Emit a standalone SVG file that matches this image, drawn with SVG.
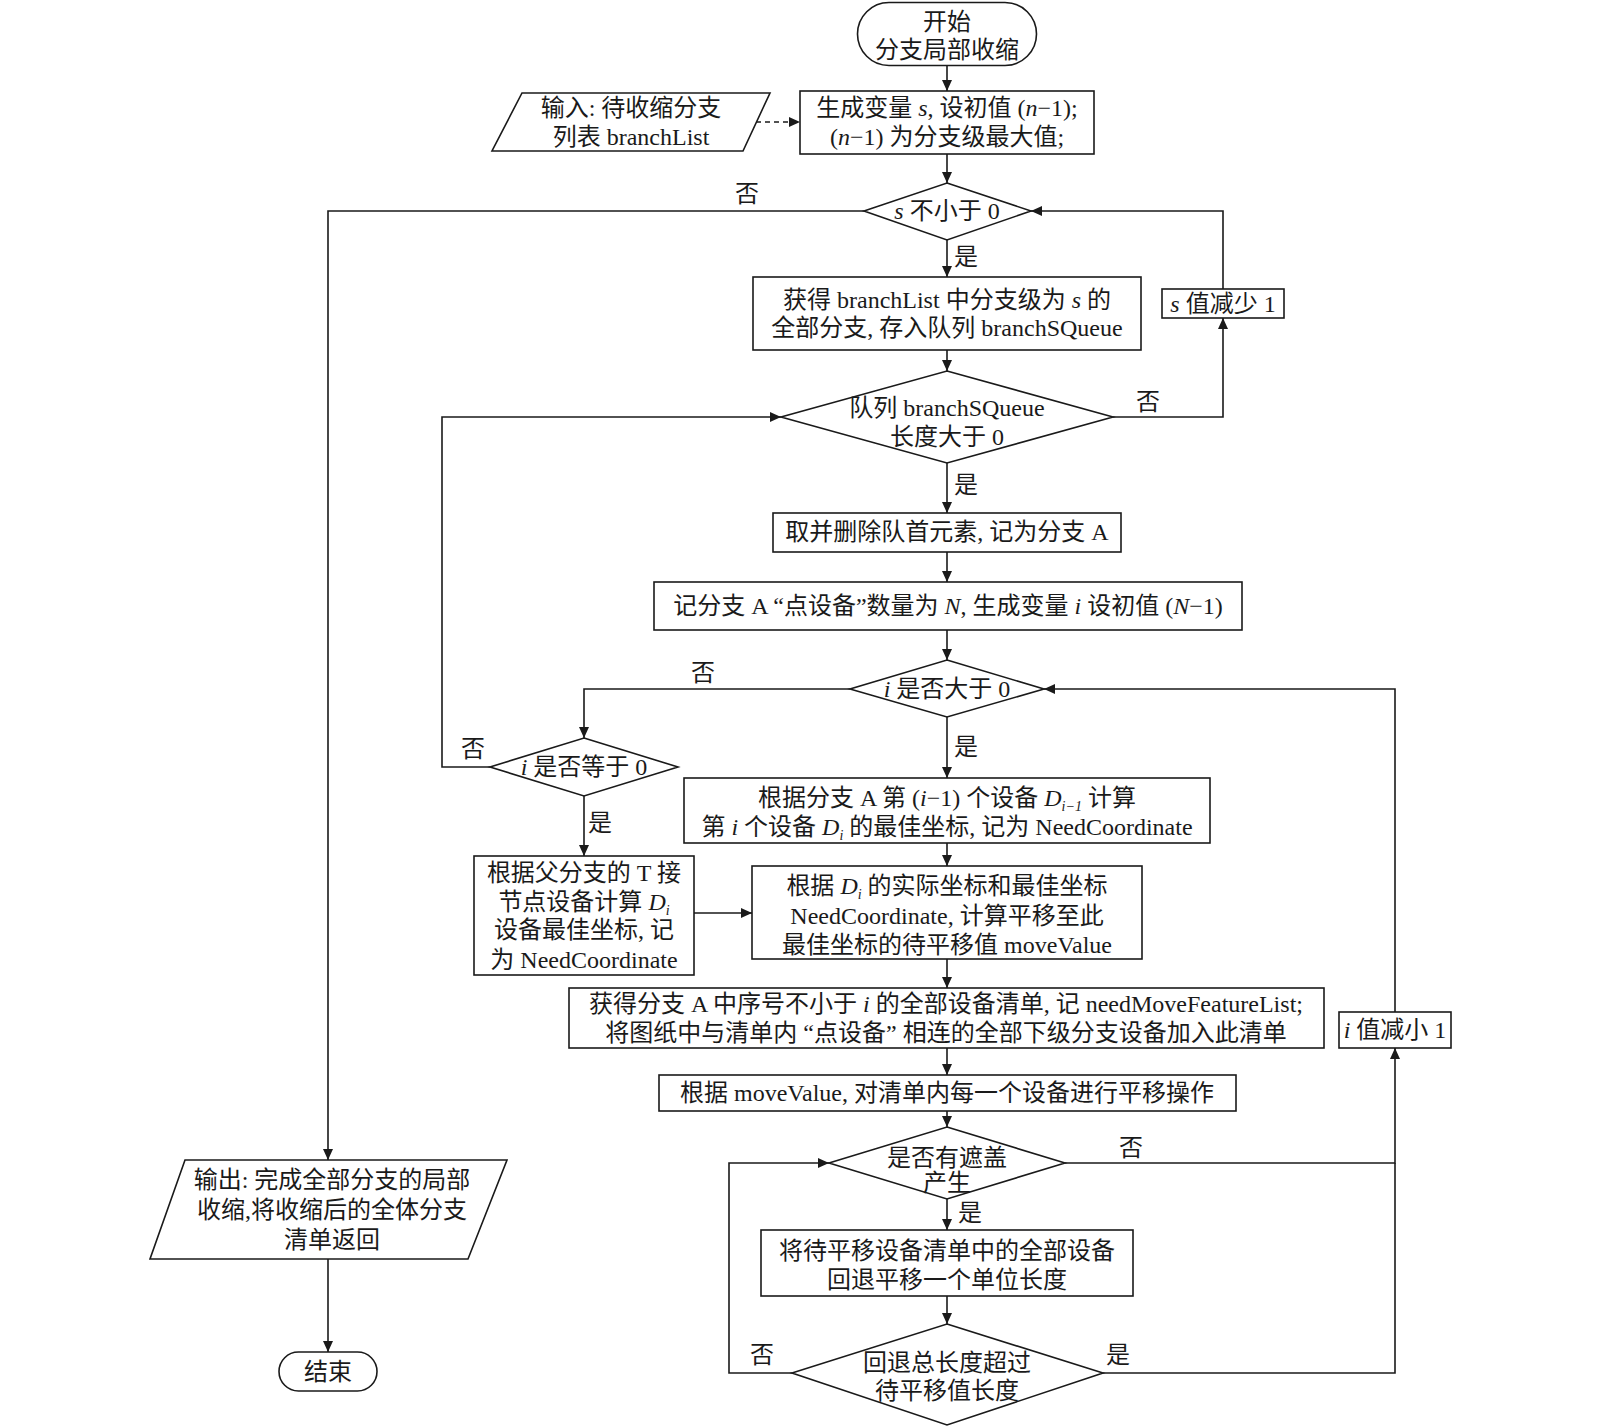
<svg xmlns="http://www.w3.org/2000/svg" width="1600" height="1427" viewBox="0 0 1600 1427">
<style>
.n{fill:#fff;stroke:#1a1a1a;stroke-width:1.6}
.c{fill:none;stroke:#1a1a1a;stroke-width:1.6}
text{font-family:"Liberation Serif","Noto Sans CJK SC",serif;font-size:24px;fill:#1a1a1a;text-anchor:middle}
.it{font-style:italic}
.sub{font-size:14px;font-style:italic}
</style>
<defs>
<marker id="a" markerUnits="userSpaceOnUse" markerWidth="12" markerHeight="10" refX="11" refY="5" orient="auto">
<path d="M0,0 L11,5 L0,10 z" fill="#1a1a1a"/>
</marker>
</defs>
<rect width="1600" height="1427" fill="#fff"/>
<g id="connectors">
<path class="c" d="M947,65 V91" marker-end="url(#a)"/>
<path class="c" d="M756,122 H800" stroke-dasharray="5,4" marker-end="url(#a)"/>
<path class="c" d="M947,154 V183" marker-end="url(#a)"/>
<path class="c" d="M947,240 V277" marker-end="url(#a)"/>
<path class="c" d="M864,211 H328 V1160" marker-end="url(#a)"/>
<path class="c" d="M947,350 V371" marker-end="url(#a)"/>
<path class="c" d="M1113,417 H1223 V318" marker-end="url(#a)"/>
<path class="c" d="M1223,289 V211 H1031" marker-end="url(#a)"/>
<path class="c" d="M947,463 V513" marker-end="url(#a)"/>
<path class="c" d="M947,552 V582" marker-end="url(#a)"/>
<path class="c" d="M947,630 V660" marker-end="url(#a)"/>
<path class="c" d="M850,689 H584 V738" marker-end="url(#a)"/>
<path class="c" d="M947,717 V778" marker-end="url(#a)"/>
<path class="c" d="M490,767 H442 V417 H781" marker-end="url(#a)"/>
<path class="c" d="M584,796 V856" marker-end="url(#a)"/>
<path class="c" d="M694,913 H752" marker-end="url(#a)"/>
<path class="c" d="M947,843 V866" marker-end="url(#a)"/>
<path class="c" d="M947,959 V988" marker-end="url(#a)"/>
<path class="c" d="M947,1048 V1075" marker-end="url(#a)"/>
<path class="c" d="M947,1111 V1127" marker-end="url(#a)"/>
<path class="c" d="M1065,1163 H1395 V1048" marker-end="url(#a)"/>
<path class="c" d="M1395,1012 V689 H1044" marker-end="url(#a)"/>
<path class="c" d="M947,1199 V1230" marker-end="url(#a)"/>
<path class="c" d="M947,1296 V1324" marker-end="url(#a)"/>
<path class="c" d="M792,1373 H729 V1163 H829" marker-end="url(#a)"/>
<path class="c" d="M1103,1373 H1395 V1163"/>
<path class="c" d="M328,1259 V1352" marker-end="url(#a)"/>
<text x="747" y="202">否</text>
<text x="966" y="265">是</text>
<text x="1148" y="410">否</text>
<text x="966" y="493">是</text>
<text x="703" y="681">否</text>
<text x="966" y="755">是</text>
<text x="473" y="757">否</text>
<text x="600" y="831">是</text>
<text x="1131" y="1156">否</text>
<text x="970" y="1221">是</text>
<text x="762" y="1363">否</text>
<text x="1118" y="1363">是</text>
</g>
<g id="start">
<rect class="n" x="857.5" y="2.5" width="179" height="63" rx="31.5"/>
<text x="947" y="30">开始</text>
<text x="947" y="58">分支局部收缩</text>
</g>
<g id="input">
<polygon class="n" points="522,93 770,93 743,151 492,151"/>
<text x="631" y="116">输入: 待收缩分支</text>
<text x="631" y="145">列表 branchList</text>
</g>
<g id="init-s">
<rect class="n" x="800" y="91" width="294" height="63"/>
<text x="947" y="116">生成变量 <tspan class="it">s</tspan>, 设初值 (<tspan class="it">n</tspan>−1);</text>
<text x="947" y="145">(<tspan class="it">n</tspan>−1) 为分支级最大值;</text>
</g>
<g id="dec-s">
<polygon class="n" points="947,183 1031,211 947,240 864,211"/>
<text x="947" y="219"><tspan class="it">s</tspan> 不小于 0</text>
</g>
<g id="get-branches">
<rect class="n" x="753" y="277" width="388" height="73"/>
<text x="947" y="308">获得 branchList 中分支级为 <tspan class="it">s</tspan> 的</text>
<text x="947" y="336">全部分支, 存入队列 branchSQueue</text>
</g>
<g id="s-minus">
<rect class="n" x="1162" y="289" width="122" height="29"/>
<text x="1223" y="312"><tspan class="it">s</tspan> 值减少 1</text>
</g>
<g id="dec-queue">
<polygon class="n" points="947,371 1113,417 947,463 781,417"/>
<text x="947" y="416">队列 branchSQueue</text>
<text x="947" y="445">长度大于 0</text>
</g>
<g id="take-head">
<rect class="n" x="773" y="513" width="348" height="39"/>
<text x="947" y="540">取并删除队首元素, 记为分支 A</text>
</g>
<g id="init-i">
<rect class="n" x="654" y="582" width="588" height="48"/>
<text x="948" y="614">记分支 A “点设备”数量为 <tspan class="it">N</tspan>, 生成变量 <tspan class="it">i</tspan> 设初值 (<tspan class="it">N</tspan>−1)</text>
</g>
<g id="dec-i-gt">
<polygon class="n" points="947,660 1044,689 947,717 850,689"/>
<text x="947" y="697"><tspan class="it">i</tspan> 是否大于 0</text>
</g>
<g id="dec-i-eq">
<polygon class="n" points="584,738 678,767 584,796 490,767"/>
<text x="584" y="775"><tspan class="it">i</tspan> 是否等于 0</text>
</g>
<g id="calc-parent">
<rect class="n" x="474" y="856" width="220" height="119"/>
<text x="584" y="881">根据父分支的 T 接</text>
<text x="584" y="910">节点设备计算 <tspan class="it">D</tspan><tspan class="sub" dy="5">i</tspan></text>
<text x="584" y="938">设备最佳坐标, 记</text>
<text x="584" y="968">为 NeedCoordinate</text>
</g>
<g id="calc-prev">
<rect class="n" x="684" y="778" width="526" height="65"/>
<text x="947" y="806">根据分支 A 第 (<tspan class="it">i</tspan>−1) 个设备 <tspan class="it">D</tspan><tspan class="sub" dy="5">i</tspan><tspan class="sub" dy="0" font-style="normal">−1</tspan><tspan dy="-5"> 计算</tspan></text>
<text x="947" y="835">第 <tspan class="it">i</tspan> 个设备 <tspan class="it">D</tspan><tspan class="sub" dy="5">i</tspan><tspan dy="-5"> 的最佳坐标, 记为 NeedCoordinate</tspan></text>
</g>
<g id="calc-move">
<rect class="n" x="752" y="866" width="390" height="93"/>
<text x="947" y="894">根据 <tspan class="it">D</tspan><tspan class="sub" dy="5">i</tspan><tspan dy="-5"> 的实际坐标和最佳坐标</tspan></text>
<text x="947" y="924">NeedCoordinate, 计算平移至此</text>
<text x="947" y="953">最佳坐标的待平移值 moveValue</text>
</g>
<g id="get-list">
<rect class="n" x="569" y="988" width="755" height="60"/>
<text x="946" y="1012">获得分支 A 中序号不小于 <tspan class="it">i</tspan> 的全部设备清单, 记 needMoveFeatureList;</text>
<text x="946" y="1041">将图纸中与清单内 “点设备” 相连的全部下级分支设备加入此清单</text>
</g>
<g id="i-minus">
<rect class="n" x="1339" y="1012" width="112" height="36"/>
<text x="1395" y="1038"><tspan class="it">i</tspan> 值减小 1</text>
</g>
<g id="move">
<rect class="n" x="659" y="1075" width="577" height="36"/>
<text x="947" y="1101">根据 moveValue, 对清单内每一个设备进行平移操作</text>
</g>
<g id="dec-overlap">
<polygon class="n" points="947,1127 1065,1163 947,1199 829,1163"/>
<text x="947" y="1166">是否有遮盖</text>
<text x="947" y="1191">产生</text>
</g>
<g id="rollback">
<rect class="n" x="761" y="1230" width="372" height="66"/>
<text x="947" y="1259">将待平移设备清单中的全部设备</text>
<text x="947" y="1288">回退平移一个单位长度</text>
</g>
<g id="dec-exceed">
<polygon class="n" points="947,1324 1103,1373 947,1425 792,1373"/>
<text x="947" y="1371">回退总长度超过</text>
<text x="947" y="1399">待平移值长度</text>
</g>
<g id="output">
<polygon class="n" points="185,1160 507,1160 468,1259 150,1259"/>
<text x="332" y="1188">输出: 完成全部分支的局部</text>
<text x="332" y="1218">收缩,将收缩后的全体分支</text>
<text x="332" y="1248">清单返回</text>
</g>
<g id="end">
<rect class="n" x="279" y="1352" width="98" height="39" rx="19.5"/>
<text x="328" y="1380">结束</text>
</g>
</svg>
